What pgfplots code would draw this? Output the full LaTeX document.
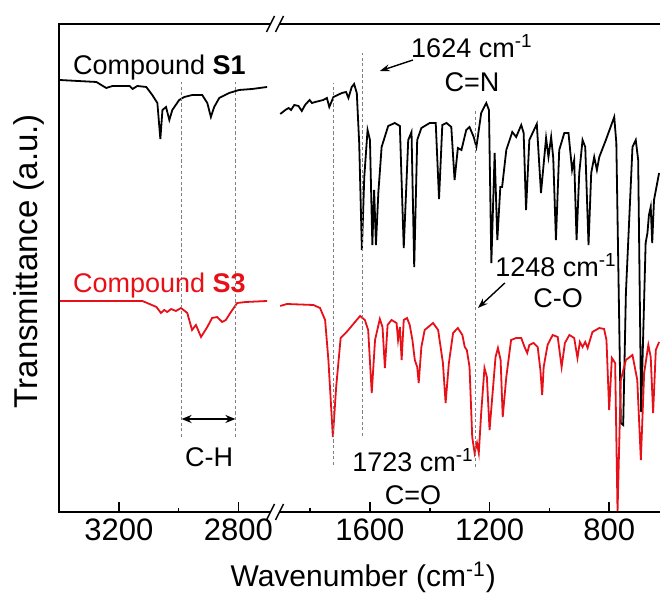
\documentclass[border=0pt]{standalone}
\usepackage{pgfplots}
\pgfplotsset{compat=1.18}
\usepackage{fontspec}
\setmainfont{Liberation Sans}
\usetikzlibrary{arrows.meta}
\definecolor{specred}{RGB}{232,16,24}
\newcommand{\ann}{\fontsize{13.5}{16}\selectfont}
\begin{document}
\begin{tikzpicture}
\begin{axis}[
  name=ax,
  at={(0,0)}, anchor=south west,
  width=300.35pt, height=244pt, scale only axis,
  x dir=reverse,
  xmin=630, xmax=2639,
  ymin=0, ymax=488,
  clip=false,
  axis line style={draw=none},
  ytick=\empty,
  xtick={800,1200,1600,2040,2440},
  xticklabels={800,1200,1600,2800,3200},
  minor xtick={1000,1400,1800,2240},
  xtick pos=left,
  major tick length=5pt, minor tick length=2.2pt,
  every tick/.style={black, line width=0.8pt},
  tick label style={font=\fontsize{15.5}{18}\selectfont},
  xlabel={Wavenumber (cm\textsuperscript{-1})},
  ylabel={Transmittance (a.u.)},
  xlabel style={font=\fontsize{15}{18}\selectfont, at={(axis description cs:0.506,-0.1537)}, anchor=base},
  ylabel style={font=\fontsize{16.5}{19}\selectfont, at={(axis description cs:-0.0371,0.514)}, anchor=base},
]
% Compound S1, high-wavenumber part (shifted by 760 for the broken axis)
\addplot[black, line width=0.9pt, x filter/.expression={x-760}] coordinates {
(3398,432) (3275,430) (3242,424) (3221,426) (3164,426) (3154,423) (3138,426) (3108,425) (3088,417) (3071,409) (3061,373) (3054,402) (3042,405) (3031,392) (3021,402) (2998,412) (2981,415) (2954,417) (2921,417) (2904,409) (2892,395) (2881,405) (2864,414) (2831,419) (2798,422) (2754,423) (2704,425)
};
% Compound S1, fingerprint part
\addplot[black, line width=0.9pt] coordinates {
(1900,398) (1883,402) (1872,404) (1864,402) (1853,407) (1839,406) (1828,401) (1817,407) (1802,412) (1794,409) (1783,410) (1756,412) (1744,414) (1736,405) (1722,415) (1694,419) (1680,420) (1672,414) (1661,425) (1653,428) (1644,419) (1636,369) (1627,262) (1619,335) (1608,382) (1600,372) (1592,267) (1586,322) (1580,267) (1572,319) (1561,365) (1539,386) (1517,389) (1500,386) (1487,264) (1472,372) (1461,380) (1452,245) (1442,372) (1428,384) (1400,389) (1380,389) (1369,313) (1358,387) (1344,389) (1328,385) (1317,332) (1306,364) (1294,362) (1278,382) (1267,385) (1253,375) (1244,365) (1228,399) (1211,409) (1202,402) (1194,249) (1183,359) (1174,272) (1164,325) (1158,325) (1144,362) (1124,380) (1111,375) (1094,387) (1086,379) (1078,302) (1067,372) (1042,388) (1028,319) (1011,374) (1003,355) (994,375) (987,354) (978,272) (967,362) (950,379) (936,379) (924,342) (917,352) (909,272) (900,339) (889,372) (880,365) (869,267) (860,339) (850,355) (841,342) (833,355) (811,372) (783,395) (776,369) (761,89) (753,87) (744,219) (722,365) (711,372) (703,352) (693,100) (678,269) (672,279) (667,297) (661,305) (656,269) (650,312) (633,339)
};
% Compound S3, high-wavenumber part
\addplot[specred, line width=0.9pt, x filter/.expression={x-760}] coordinates {
(3398,211) (3121,211) (3074,205) (3059,199) (3048,202) (3038,200) (3025,203) (3009,201) (2992,204) (2971,199) (2955,182) (2942,187) (2925,175) (2904,185) (2888,194) (2871,195) (2854,190) (2842,192) (2825,200) (2804,209) (2775,210) (2704,211)
};
% Compound S3, fingerprint part
\addplot[specred, line width=0.9pt] coordinates {
(1900,206) (1878,208) (1789,207) (1767,204) (1750,192) (1739,152) (1724,75) (1713,125) (1698,174) (1678,180) (1650,190) (1633,196) (1617,192) (1606,182) (1594,119) (1583,172) (1567,193) (1558,185) (1550,144) (1541,187) (1528,192) (1511,189) (1506,172) (1500,185) (1494,152) (1487,192) (1476,194) (1467,187) (1458,172) (1450,152) (1442,145) (1437,129) (1428,165) (1417,182) (1389,189) (1372,182) (1356,149) (1347,109) (1336,149) (1322,179) (1306,184) (1291,177) (1283,165) (1276,162) (1267,145) (1258,75) (1250,59) (1242,69) (1236,59) (1228,99) (1217,144) (1209,135) (1200,82) (1189,122) (1180,155) (1172,164) (1163,152) (1156,95) (1144,135) (1128,172) (1111,174) (1094,174) (1083,165) (1074,159) (1067,167) (1053,169) (1039,165) (1030,142) (1024,117) (1019,145) (1006,167) (989,177) (972,175) (959,145) (948,169) (933,177) (917,174) (906,154) (898,170) (889,165) (880,170) (872,164) (856,180) (833,184) (817,183) (809,172) (800,102) (791,154) (780,149) (772,0) (761,132) (744,152) (722,157) (706,132) (694,52) (683,139) (669,167) (661,155) (653,99) (644,162) (633,170)
};
% guide lines
\draw[gray, line width=0.5pt, dash pattern=on 1.6pt off 1.2pt] (axis cs:2230,75) -- (axis cs:2230,430);
\draw[gray, line width=0.5pt, dash pattern=on 1.6pt off 1.2pt] (axis cs:2050,75) -- (axis cs:2050,430);
\draw[gray, line width=0.5pt, dash pattern=on 1.6pt off 1.2pt] (axis cs:1723,47) -- (axis cs:1723,429);
\draw[gray, line width=0.5pt, dash pattern=on 1.6pt off 1.2pt] (axis cs:1624,76) -- (axis cs:1624,459);
\draw[gray, line width=0.5pt, dash pattern=on 1.6pt off 1.2pt] (axis cs:1248,45) -- (axis cs:1248,402);
% arrows
\draw[line width=0.9pt, {Stealth[length=5pt,width=4pt]}-{Stealth[length=5pt,width=4pt]}] (axis cs:2230,93) -- (axis cs:2050,93);
\draw[line width=0.7pt, -{Stealth[length=5pt,width=3.5pt]}] (axis cs:1456,452) -- (axis cs:1567,441);
\draw[line width=0.7pt, -{Stealth[length=5pt,width=3.5pt]}] (axis cs:1149,229) -- (axis cs:1239,204);
% labels
\node[anchor=base west, inner sep=0pt] at (axis cs:2594,437) {\ann Compound \textbf{S1}};
\node[anchor=base west, inner sep=0pt, text=specred] at (axis cs:2594,219) {\ann Compound \textbf{S3}};
\node[anchor=base, inner sep=0pt] at (axis cs:1259,454) {\ann 1624 cm\textsuperscript{-1}};
\node[anchor=base, inner sep=0pt] at (axis cs:1259,420) {\ann C=N};
\node[anchor=base, inner sep=0pt] at (axis cs:978,235) {\ann 1248 cm\textsuperscript{-1}};
\node[anchor=base, inner sep=0pt] at (axis cs:971,204) {\ann C-O};
\node[anchor=base, inner sep=0pt] at (axis cs:1456,40) {\ann 1723 cm\textsuperscript{-1}};
\node[anchor=base, inner sep=0pt] at (axis cs:1456,7) {\ann C=O};
\node[anchor=base, inner sep=0pt] at (axis cs:2138,45) {\ann C-H};
\end{axis}
% frame (open on the right, as in the cropped original)
\draw[line width=1pt] (ax.north east) -- (ax.north west) -- (ax.south west) -- (ax.south east);
% axis break marks
\fill[white] (105.6pt,-1.5pt) rectangle (110.1pt,1.5pt);
\fill[white] (105.6pt,242.5pt) rectangle (110.1pt,245.5pt);
\draw[line width=0.7pt] (103.6pt,-4pt) -- (107.6pt,4pt);
\draw[line width=0.7pt] (108.1pt,-4pt) -- (112.1pt,4pt);
\draw[line width=0.7pt] (103.6pt,240pt) -- (107.6pt,248pt);
\draw[line width=0.7pt] (108.1pt,240pt) -- (112.1pt,248pt);
\pgfresetboundingbox
\path (-29.65pt,-43pt) rectangle (300.35pt,256pt);
\end{tikzpicture}
\end{document}
